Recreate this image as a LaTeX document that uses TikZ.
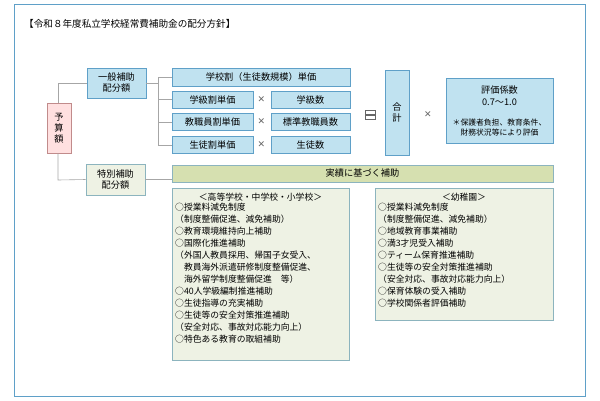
\documentclass[tikz,border=0pt]{standalone}
\usepackage{fontspec}
\setmainfont{Noto Sans CJK JP}
\newfontfamily\djv{DejaVu Sans}
\definecolor{bfill}{RGB}{192,226,240}
\definecolor{bdraw}{RGB}{95,160,200}
\definecolor{gfill}{RGB}{238,242,228}
\definecolor{gdraw}{RGB}{140,180,190}
\definecolor{ofill}{RGB}{214,224,176}
\begin{document}
\begin{tikzpicture}[x=1pt,y=-1pt,
 bl/.style={draw=bdraw, fill=bfill, line width=0.9pt, inner sep=0pt, font=\fontsize{9.2}{11}\selectfont, align=center},
 gr/.style={draw=gdraw, fill=gfill, line width=0.9pt, inner sep=0pt, font=\fontsize{9.2}{11}\selectfont, align=center},
 ln/.style={draw=gray!70, line width=0.6pt},
 sym/.style={font=\djv\fontsize{9}{10}\selectfont, text=gray!80!black},
 lst/.style={font=\fontsize{8.8}{12}\selectfont, align=left, anchor=north west, inner sep=0pt}]
\useasboundingbox (0,0) rectangle (600,400);
\draw[draw=bdraw, line width=0.9pt] (14,4) rectangle (585,396);
\node[anchor=west, font=\fontsize{9.6}{10}\selectfont, inner sep=0pt] (title) at (24,24) {【令和８年度私立学校経常費補助金の配分方針】};
\node[draw=red!30!gray!70, fill=red!12, line width=0.9pt, minimum width=24, minimum height=50, inner sep=0pt, font=\fontsize{9.2}{11}\selectfont, align=center] (yosan) at (59,128) {予\\算\\額};
\node[bl, minimum width=59, minimum height=30] (ippan) at (116.5,83) {一般補助\\配分額};
\node[gr, minimum width=59, minimum height=31] (tokubetsu) at (115.5,179.5) {特別補助\\配分額};
\node[bl, minimum width=178, minimum height=18] (r1) at (261,77) {学校割（生徒数規模）単価};
\node[bl, minimum width=81, minimum height=17] (r2a) at (212.5,99.5) {学級割単価};
\node[bl, minimum width=79, minimum height=17] (r2b) at (310.5,99.5) {学級数};
\node[bl, minimum width=81, minimum height=17] (r3a) at (212.5,122) {教職員割単価};
\node[bl, minimum width=79, minimum height=17] (r3b) at (310.5,122) {標準教職員数};
\node[bl, minimum width=81, minimum height=17] (r4a) at (212.5,145) {生徒割単価};
\node[bl, minimum width=79, minimum height=17] (r4b) at (310.5,145) {生徒数};
\node[sym] (x1) at (261.5,99.5) {✕};
\node[sym] (x2) at (261.5,122) {✕};
\node[sym] (x3) at (261.5,145) {✕};
\node[draw=gray!80!black, line width=0.6pt, minimum width=10, minimum height=3.5, inner sep=0pt] (eq1) at (370,112.5) {};
\node[draw=gray!80!black, line width=0.6pt, minimum width=10, minimum height=3.5, inner sep=0pt] (eq2) at (370,117.5) {};
\node[bl, minimum width=24, minimum height=85] (goukei) at (397,112.5) {合\\計};
\node[sym] (x4) at (428,115) {✕};
\node[bl, minimum width=107, minimum height=65] (hyoka) at (499.5,110.5) {};
\node[font=\fontsize{9.2}{12}\selectfont, align=center, inner sep=0pt] (hy1) at (499.5,96) {評価係数\\0.7〜1.0};
\node[font=\fontsize{7.8}{10}\selectfont, align=center, inner sep=0pt] (hy2) at (499.5,128) {＊保護者負担、教育条件、\\財務状況等により評価};
\node[gr, fill=ofill, minimum width=381, minimum height=17] (jisseki) at (362.5,173.5) {実績に基づく補助};
\node[gr, minimum width=177, minimum height=172] (lbox) at (260.5,274) {};
\node[gr, minimum width=178, minimum height=132] (rbox) at (464,254) {};
\node[font=\fontsize{8.8}{10}\selectfont, inner sep=0pt] (lh) at (260.5,197) {＜高等学校・中学校・小学校＞};
\node[font=\fontsize{8.8}{10}\selectfont, inner sep=0pt] (rh) at (464,197) {＜幼稚園＞};
\node[lst] (ll) at (175,203) {○授業料減免制度\\（制度整備促進、減免補助）\\○教育環境維持向上補助\\○国際化推進補助\\（外国人教員採用、帰国子女受入、\\\hspace{1em}教員海外派遣研修制度整備促進、\\\hspace{1em}海外留学制度整備促進\quad 等）\\○40人学級編制推進補助\\○生徒指導の充実補助\\○生徒等の安全対策推進補助\\（安全対応、事故対応能力向上）\\○特色ある教育の取組補助};
\node[lst] (rl) at (378,203) {○授業料減免制度\\（制度整備促進、減免補助）\\○地域教育事業補助\\○満3才児受入補助\\○ティーム保育推進補助\\○生徒等の安全対策推進補助\\（安全対応、事故対応能力向上）\\○保育体験の受入補助\\○学校関係者評価補助};
\coordinate (ytop) at (58,83);
\coordinate (ybot) at (58,180);
\draw[ln] (yosan.north -| ytop) -- (ytop) -- (ippan.west);
\draw[ln] (yosan.south -| ybot) -- (ybot) -- (tokubetsu.west);
\coordinate (bx) at (158,83);
\draw[ln] (ippan.east) -- (bx);
\draw[ln] (r1.west -| bx) -- (r4a.west -| bx);
\draw[ln] (r1.west -| bx) -- (r1.west);
\draw[ln] (r2a.west -| bx) -- (r2a.west);
\draw[ln] (r3a.west -| bx) -- (r3a.west);
\draw[ln] (r4a.west -| bx) -- (r4a.west);
\draw[ln] (tokubetsu.east) -- (tokubetsu.east -| jisseki.west);
\end{tikzpicture}
\end{document}
